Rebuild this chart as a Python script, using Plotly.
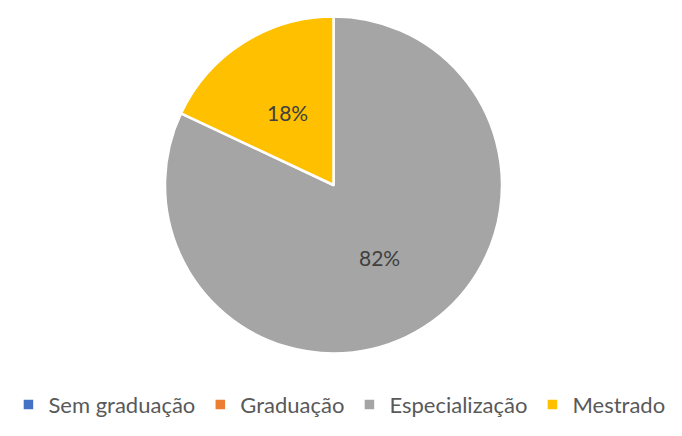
import math
import plotly.graph_objects as go

categories = ["Sem graduação", "Graduação", "Especialização", "Mestrado"]
values = [0, 0, 82, 18]
colors = ["#4472C4", "#ED7D31", "#A5A5A5", "#FFC000"]

W, H = 682, 436
CX, CY, R = 325.5, 177.0, 168.5  # pie centre / radius in pixels

dom_x = [(CX - R) / W, (CX + R) / W]
dom_y = [1 - (CY + R) / H, 1 - (CY - R) / H]

fig = go.Figure(go.Pie(
    labels=categories,
    values=values,
    marker=dict(colors=colors, line=dict(color="white", width=2.5)),
    sort=False,
    direction="clockwise",
    rotation=0,
    textinfo="none",
    hoverinfo="label+percent",
    domain=dict(x=dom_x, y=dom_y),
))

# percentage labels placed at half radius along each slice's mid-angle
total = sum(values)
cum = 0.0
annotations = []
for v in values:
    if v > 0:
        mid = (cum + v / 2) / total * 2 * math.pi
        px = CX + 0.51 * R * math.sin(mid)
        py = CY - 0.51 * R * math.cos(mid)
        annotations.append(dict(
            x=px / W, y=1 - py / H, xref="paper", yref="paper",
            xanchor="center", yanchor="middle",
            text=f"{round(v / total * 100)}%", showarrow=False,
            font=dict(family="Lato", size=21, color="#404040"),
        ))
    cum += v

fig.update_layout(
    width=W, height=H,
    margin=dict(l=0, r=0, t=0, b=0),
    paper_bgcolor="white",
    plot_bgcolor="white",
    showlegend=True,
    annotations=annotations,
    legend=dict(
        orientation="h",
        x=0.486, xanchor="center",
        y=0.09, yanchor="middle",
        font=dict(family="Lato", size=22, color="#595959"),
        itemwidth=30,
        traceorder="normal",
    ),
)

fig.write_html("out.html")
